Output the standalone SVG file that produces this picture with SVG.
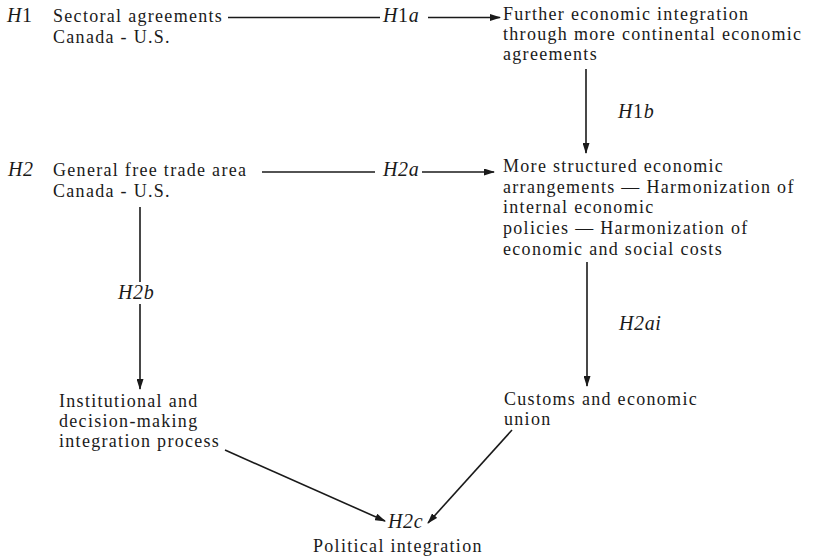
<svg xmlns="http://www.w3.org/2000/svg" width="816" height="558" viewBox="0 0 816 558">
<defs>
<marker id="ah" markerWidth="11" markerHeight="7" refX="10" refY="3.5" orient="auto" markerUnits="userSpaceOnUse">
<path d="M0,0 L11,3.5 L0,7 z" fill="#1a1a1a"/>
</marker>
<style>
text{font-family:"Liberation Serif","Times New Roman",serif;font-size:18px;letter-spacing:1.3px;fill:#1a1a1a}
.it{font-style:italic;font-size:20px;letter-spacing:0.6px}
.up{font-style:normal}
.ln{stroke:#1a1a1a;stroke-width:1.6;fill:none}
.ar{stroke:#1a1a1a;stroke-width:1.6;fill:none;marker-end:url(#ah)}
</style>
</defs>
<rect width="816" height="558" fill="#ffffff"/>

<g id="label-h1"><text class="it" x="7" y="22">H<tspan class="up">1</tspan></text></g>
<g id="label-h2"><text class="it" x="8" y="176">H2</text></g>

<g id="sectoral">
<text x="53" y="22">Sectoral agreements</text>
<text x="53" y="43">Canada - U.S.</text>
</g>
<g id="further">
<text x="503" y="20">Further economic integration</text>
<text x="503" y="40">through more continental economic</text>
<text x="503" y="60">agreements</text>
</g>
<g id="general">
<text x="53" y="176">General free trade area</text>
<text x="53" y="197">Canada - U.S.</text>
</g>
<g id="structured">
<text x="503" y="172">More structured economic</text>
<text x="503" y="193">arrangements — Harmonization of</text>
<text x="503" y="213">internal economic</text>
<text x="503" y="234">policies — Harmonization of</text>
<text x="503" y="255">economic and social costs</text>
</g>
<g id="institutional">
<text x="59" y="407">Institutional and</text>
<text x="59" y="427">decision-making</text>
<text x="59" y="447">integration process</text>
</g>
<g id="customs">
<text x="504" y="405">Customs and economic</text>
<text x="504" y="425">union</text>
</g>
<g id="political">
<text x="313" y="552">Political integration</text>
</g>

<g id="connectors">
<line class="ln" x1="228" y1="17.5" x2="380" y2="17.5"/>
<line class="ar" x1="428" y1="17.5" x2="500" y2="17.5"/>
<text class="it" x="383" y="22">H<tspan class="up">1</tspan>a</text>

<line class="ar" x1="586" y1="69" x2="586" y2="153"/>
<text class="it" x="618" y="118">H<tspan class="up">1</tspan>b</text>

<line class="ln" x1="262" y1="172" x2="375" y2="172"/>
<line class="ar" x1="422" y1="172" x2="494" y2="172"/>
<text class="it" x="383" y="176">H2a</text>

<line class="ln" x1="140" y1="207" x2="140" y2="282"/>
<line class="ar" x1="140" y1="304" x2="140" y2="389"/>
<text class="it" x="118" y="299">H2b</text>

<line class="ar" x1="587" y1="262" x2="587" y2="386"/>
<text class="it" x="619" y="330">H2ai</text>

<line class="ar" x1="225" y1="450" x2="385" y2="521"/>
<line class="ar" x1="512" y1="430" x2="428" y2="523"/>
<text class="it" x="388" y="528">H2c</text>
</g>
</svg>
